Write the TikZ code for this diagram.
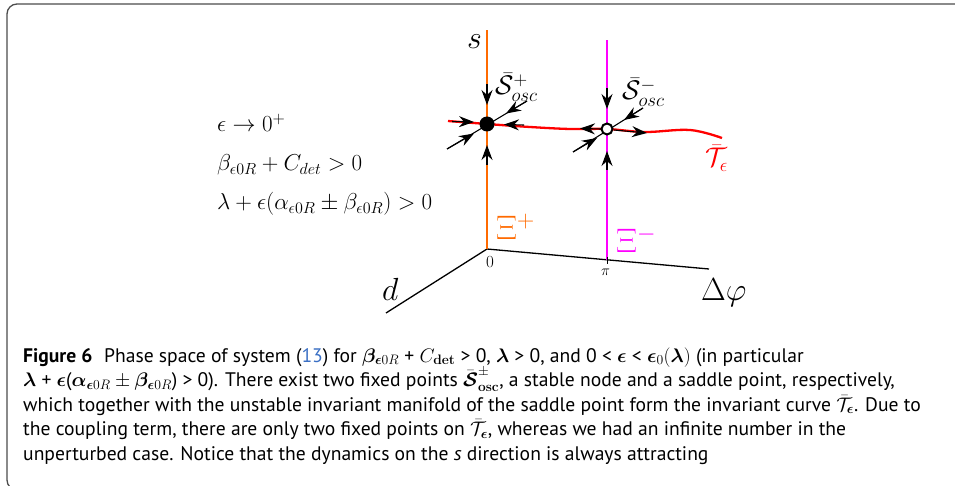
\RequirePackage{fix-cm}
\documentclass[tikz,border=0pt]{standalone}
\usepackage{amsmath,bm}
\usepackage[no-math]{fontspec}
\setmainfont{PT Sans}
\usetikzlibrary{arrows.meta}
\definecolor{xorange}{HTML}{FF6A00}
\definecolor{xmag}{HTML}{FF00FF}
\definecolor{xred}{HTML}{FF0000}
\definecolor{linkblue}{HTML}{3A6FC4}
\begin{document}
\begin{tikzpicture}[x=1pt,y=-1pt,
  arr/.style={black,line width=1.1pt,-{Stealth[length=15pt,width=11pt,inset=5pt]}},
  axisline/.style={black,line width=1.3pt},
  thin black/.style={black,line width=1.1pt},
  lbl/.style={anchor=base west,inner sep=0pt,font=\fontsize{32}{36}\selectfont},
  cond/.style={anchor=base west,inner sep=0pt,font=\fontsize{23}{27}\selectfont},
  captxt/.style={anchor=base west,inner sep=0pt,font=\fontsize{19.6}{23}\selectfont},
  stable/.style={circle,fill=black,inner sep=0pt,minimum size=15pt},
  saddle/.style={circle,fill=white,draw=black,line width=2pt,inner sep=0pt,minimum size=11pt}
]
\useasboundingbox (0,0) rectangle (955,486);
\begin{scope}
\clip (0,0) rectangle (955,486);
\draw[black!70,line width=1.3pt,rounded corners=10pt] (7,4) rectangle (975,490);
\end{scope}

% axes
\coordinate (O) at (487,249);
\coordinate (stop) at (487,30);
\coordinate (dend) at (386,313);
\coordinate (phend) at (709,269);
\coordinate (mtop) at (607,40);
\coordinate (mbot) at (607,260);
\draw[axisline] (dend) -- (O) -- (phend);
\draw[xorange,line width=2.5pt] (O) -- (stop);
\draw[xmag,line width=2.5pt] (mbot) -- (mtop);
\draw[black,line width=1pt] (607,257) -- (607,264);

% invariant curve
\draw[xred,line width=2.3pt] plot[smooth,tension=0.6] coordinates {(448,121) (487,124) (530,127) (570,129) (607,129) (645,132) (690,130) (722,138)};

% stable node
\coordinate (Npos) at (487,124);
\coordinate (Ppos) at (607,129);
\draw[thin black] (447,149) -- (527,101);
\draw[thin black] (573,152) -- (643,108);
\draw[arr] (487,84) -- (487,105);
\draw[arr] (487,165) -- (487,145);
\draw[arr] (452,121.5) -- (474,122);
\draw[arr] (524,125) -- (504,124.5);
\draw[arr] (527,101) -- (506,113.5);
\draw[arr] (447,149) -- (474,133.5);
% saddle
\draw[arr] (607,88) -- (607,109);
\draw[arr] (607,170) -- (607,151);
\draw[arr] (601,129) -- (580,128.5);
\draw[arr] (614,130) -- (647,133);
\draw[arr] (643,108) -- (624,120);
\draw[arr] (573,152) -- (597,138);

\node[stable] (N) at (Npos) {};
\node[saddle] (P) at (Ppos) {};

% labels
\node[lbl] (ls) at (467,49) {$s$};
\node[lbl] (ld) at (382,300) {$d$};
\node[lbl] (lphi) at (701,300) {$\Delta\varphi$};
\node[anchor=base west,inner sep=0pt,font=\fontsize{17}{20}\selectfont] (l0) at (486,268) {$0$};
\node[anchor=base west,inner sep=0pt,font=\fontsize{15}{18}\selectfont] (lpi) at (601,275) {$\pi$};
\node[anchor=base west,inner sep=0pt,font=\fontsize{34}{38}\selectfont,text=xorange] (lxp) at (496,240) {$\Xi^{+}$};
\node[anchor=base west,inner sep=0pt,font=\fontsize{34}{38}\selectfont,text=xmag] (lxm) at (616,253) {$\Xi^{-}$};
\node[anchor=base west,inner sep=0pt,font=\fontsize{27}{30}\selectfont] (lsp) at (495,95) {$\bar{\mathcal{S}}^{+}_{osc}$};
\node[anchor=base west,inner sep=0pt,font=\fontsize{27}{30}\selectfont] (lsm) at (622,100) {$\bar{\mathcal{S}}^{-}_{osc}$};
\node[anchor=base west,inner sep=0pt,font=\fontsize{27}{30}\selectfont,text=xred] (lt) at (705,167) {$\bar{\mathcal{T}}_{\epsilon}$};

% conditions
\node[cond] (c1) at (217,132) {$\epsilon\to 0^{+}$};
\node[cond] (c2) at (217,171) {$\beta_{\epsilon0R}+C_{det}>0$};
\node[cond] (c3) at (217,210) {$\lambda+\epsilon(\alpha_{\epsilon0R}\pm\beta_{\epsilon0R})>0$};

% caption
\node[captxt] (k1) at (23,362) {\textbf{Figure 6}\hspace{0.6em}Phase space of system (\textcolor{linkblue}{13}) for $\bm{\beta}_{\bm{\epsilon}0R}$ + $C_{\mathbf{det}}$ > 0, $\bm{\lambda}$ > 0, and 0 < $\bm{\epsilon}$ < $\bm{\epsilon}_0(\bm{\lambda})$ (in particular};
\node[captxt] (k2) at (23,386.5) {$\bm{\lambda}$ + $\bm{\epsilon}$($\bm{\alpha}_{\bm{\epsilon}0R}\pm\bm{\beta}_{\bm{\epsilon}0R}$) > 0). There exist two fixed points $\bar{\bm{\mathcal{S}}}^{\pm}_{\mathbf{osc}}$, a stable node and a saddle point, respectively,};
\node[captxt] (k3) at (23,411) {which together with the unstable invariant manifold of the saddle point form the invariant curve $\bar{\mathcal{T}}_{\bm{\epsilon}}$. Due to};
\node[captxt] (k4) at (23,435.5) {the coupling term, there are only two fixed points on $\bar{\mathcal{T}}_{\bm{\epsilon}}$, whereas we had an infinite number in the};
\node[captxt] (k5) at (23,460) {unperturbed case. Notice that the dynamics on the \textit{s} direction is always attracting};
\end{tikzpicture}
\end{document}
